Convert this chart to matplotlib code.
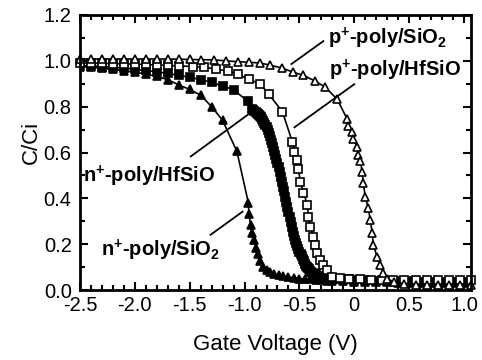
import matplotlib
matplotlib.use('Agg')
import matplotlib.pyplot as plt
from matplotlib.ticker import MultipleLocator

plt.rcParams['font.family'] = ['Liberation Sans', 'DejaVu Sans']
plt.rcParams['mathtext.fontset'] = 'custom'
plt.rcParams['mathtext.rm'] = 'Liberation Sans'
plt.rcParams['mathtext.bf'] = 'Liberation Sans:bold'
plt.rcParams['axes.unicode_minus'] = False

# n+-poly/SiO2 (filled triangles)
v_n_sio2 = [-2.5, -2.4, -2.3, -2.2, -2.1, -2.0, -1.9, -1.8, -1.7, -1.6, -1.5, -1.4, -1.3,
            -1.2, -1.07, -0.965, -0.96, -0.945, -0.93, -0.915, -0.9, -0.88, -0.855, -0.83,
            -0.8, -0.77, -0.73, -0.69, -0.65, -0.6, -0.55, -0.5, -0.45, -0.4, -0.35, -0.3,
            -0.25, -0.2, -0.1, 0.0, 0.1, 0.2, 0.3, 0.4, 0.5, 0.6, 0.7, 0.8, 0.9, 1.0]
c_n_sio2 = [0.975, 0.972, 0.968, 0.963, 0.957, 0.95, 0.942, 0.932, 0.918, 0.895, 0.875, 0.85, 0.80,
            0.74, 0.605, 0.38, 0.33, 0.285, 0.25, 0.22, 0.185, 0.155, 0.125, 0.10,
            0.088, 0.078, 0.07, 0.065, 0.06, 0.057, 0.054, 0.05, 0.048, 0.046, 0.044, 0.042,
            0.041, 0.04, 0.038, 0.036, 0.035, 0.034, 0.033, 0.032, 0.031, 0.03, 0.03, 0.03, 0.03, 0.03]

# n+-poly/HfSiO (filled squares)
v_n_hf = [-2.5, -2.4, -2.3, -2.2, -2.1, -2.0, -1.9, -1.8, -1.7, -1.6, -1.5, -1.4, -1.3, -1.2,
          -1.1, -0.97,
          -0.93, -0.92, -0.91, -0.90, -0.89, -0.88, -0.87, -0.86, -0.85, -0.84, -0.83, -0.82,
          -0.81, -0.80, -0.79, -0.78, -0.77, -0.76, -0.75, -0.74, -0.73, -0.72, -0.71, -0.70,
          -0.69, -0.68, -0.67, -0.66, -0.65, -0.64, -0.63, -0.62, -0.61, -0.60, -0.59, -0.58,
          -0.57, -0.56, -0.55, -0.54, -0.53, -0.52, -0.51, -0.50, -0.49, -0.48, -0.47, -0.46,
          -0.45, -0.44, -0.43, -0.42, -0.41, -0.40, -0.39, -0.38, -0.37, -0.36, -0.35, -0.34,
          -0.33, -0.32, -0.31, -0.30,
          -0.25, -0.2, -0.15, -0.1, -0.05, 0.0, 0.1, 0.2, 0.3, 0.4, 0.5, 0.6, 0.7, 0.8, 0.9, 1.0]
c_n_hf = [0.98, 0.978, 0.975, 0.972, 0.968, 0.963, 0.958, 0.952, 0.945, 0.937, 0.928, 0.918, 0.906, 0.89,
          0.874, 0.823,
          0.79, 0.785, 0.782, 0.778, 0.774, 0.77, 0.765, 0.76, 0.753, 0.745, 0.738, 0.73,
          0.72, 0.71, 0.698, 0.685, 0.67, 0.655, 0.64, 0.625, 0.608, 0.59, 0.573, 0.555,
          0.535, 0.515, 0.493, 0.47, 0.45, 0.43, 0.408, 0.385, 0.362, 0.34, 0.318, 0.295,
          0.275, 0.255, 0.237, 0.22, 0.205, 0.19, 0.177, 0.165, 0.157, 0.148, 0.136, 0.125,
          0.115, 0.105, 0.1, 0.095, 0.09, 0.085, 0.08, 0.076, 0.072, 0.068, 0.064, 0.061,
          0.059, 0.057, 0.056, 0.055,
          0.052, 0.05, 0.048, 0.047, 0.046, 0.045, 0.043, 0.041, 0.04, 0.039, 0.038, 0.037,
          0.036, 0.036, 0.035, 0.035]

# p+-poly/HfSiO (open squares)
v_p_hf = [-2.5, -2.4, -2.3, -2.2, -2.1, -2.0, -1.9, -1.8, -1.7, -1.6, -1.47, -1.37, -1.26,
          -1.155, -1.064, -0.964, -0.855, -0.78, -0.655, -0.564, -0.545, -0.518, -0.509,
          -0.491, -0.464, -0.427, -0.418, -0.4, -0.373, -0.355, -0.336, -0.309, -0.282,
          -0.245, -0.2, -0.13, -0.05, 0.05, 0.15, 0.25, 0.35, 0.45, 0.56, 0.66, 0.76, 0.86,
          0.96, 1.06]
c_p_hf = [0.99, 0.99, 0.989, 0.988, 0.987, 0.986, 0.984, 0.982, 0.98, 0.978, 0.975, 0.972, 0.964,
          0.955, 0.942, 0.92, 0.898, 0.855, 0.778, 0.646, 0.604, 0.569, 0.526,
          0.473, 0.425, 0.372, 0.32, 0.276, 0.232, 0.197, 0.162, 0.131, 0.11,
          0.088, 0.057, 0.053, 0.05, 0.048, 0.045, 0.044, 0.044, 0.044, 0.044, 0.044, 0.044, 0.044,
          0.044, 0.044]

# p+-poly/SiO2 (open triangles)
v_p_sio2 = [-2.5, -2.4, -2.3, -2.2, -2.1, -2.0, -1.9, -1.8, -1.7, -1.6, -1.5, -1.4, -1.28,
            -1.17, -1.06, -0.96, -0.855, -0.764, -0.655, -0.555, -0.464, -0.355, -0.264,
            -0.155, -0.064, -0.055, -0.018, -0.009, 0.027, 0.036, 0.055, 0.073, 0.082, 0.1,
            0.127, 0.145, 0.164, 0.173, 0.209, 0.236, 0.264, 0.3, 0.36, 0.45, 0.56, 0.66,
            0.76, 0.86, 0.96, 1.06]
c_p_sio2 = [1.008, 1.008, 1.008, 1.008, 1.008, 1.008, 1.008, 1.008, 1.008, 1.007, 1.006, 1.005, 1.004,
            1.0, 0.996, 0.994, 0.99, 0.981, 0.968, 0.95, 0.937, 0.911, 0.885,
            0.832, 0.745, 0.714, 0.688, 0.657, 0.626, 0.591, 0.561, 0.517, 0.469, 0.407,
            0.359, 0.307, 0.25, 0.197, 0.145, 0.11, 0.074, 0.05, 0.035, 0.028, 0.024, 0.024,
            0.024, 0.024, 0.024, 0.024]

x_ticks = [-2.5, -2.0, -1.5, -1.0, -0.5, 0.0, 0.5, 1.0]
x_tick_labels = ['-2.5', '-2.0', '-1.5', '-1.0', '-0.5', '0', '0.5', '1.0']
y_ticks = [0.0, 0.2, 0.4, 0.6, 0.8, 1.0, 1.2]
y_tick_labels = ['0.0', '0.2', '0.4', '0.6', '0.8', '1.0', '1.2']

fig = plt.figure(figsize=(4.82, 3.6), dpi=100)
ax = fig.add_axes([80 / 482, 1 - 290 / 360, 391 / 482, 275 / 360])

ms = 6.3
mew = 1.2
ax.plot(v_n_sio2, c_n_sio2, '-^', color='k', lw=1.2, ms=ms, mew=mew, mfc='k', mec='k')
ax.plot(v_n_hf, c_n_hf, '-s', color='k', lw=1.2, ms=ms, mew=mew, mfc='k', mec='k')
ax.plot(v_p_hf, c_p_hf, '-s', color='k', lw=1.2, ms=ms, mew=mew, mfc='white', mec='k',
        clip_on=False)
ax.plot(v_p_sio2, c_p_sio2, '-^', color='k', lw=1.2, ms=ms, mew=mew, mfc='white', mec='k',
        clip_on=False)

# labels + leader lines
lab_kw = dict(fontsize=14.5, fontweight='bold', ha='left', va='baseline')
ax.text(-0.236, 1.073, r'p$^{\mathbf{+}}$-poly/SiO$_{\mathbf{2}}$', **lab_kw)
ax.text(-0.227, 0.934, r'p$^{\mathbf{+}}$-poly/HfSiO', **lab_kw)
ax.text(-2.47, 0.469, r'n$^{\mathbf{+}}$-poly/HfSiO', **lab_kw)
ax.text(-2.31, 0.146, r'n$^{\mathbf{+}}$-poly/SiO$_{\mathbf{2}}$', **lab_kw)

ax.plot([-0.282, -0.573], [1.086, 0.986], color='k', lw=1.3)
ax.plot([0.0, -0.545], [0.898, 0.71], color='k', lw=1.3)
ax.plot([-1.49, -0.964], [0.583, 0.767], color='k', lw=1.3)
ax.plot([-1.31, -1.018], [0.241, 0.342], color='k', lw=1.3)

ax.set_xlim(-2.5, 1.064)
ax.set_ylim(0.0, 1.2)
ax.set_xticks(x_ticks)
ax.set_xticklabels(x_tick_labels)
ax.set_yticks(y_ticks)
ax.set_yticklabels(y_tick_labels)
ax.xaxis.set_minor_locator(MultipleLocator(0.1))
ax.yaxis.set_minor_locator(MultipleLocator(0.1))
ax.tick_params(which='both', direction='in', top=True, right=True, width=1.5)
ax.tick_params(which='major', length=6, labelsize=14.5)
ax.tick_params(which='minor', length=3.5)
ax.tick_params(axis='y', which='major', pad=6)
ax.tick_params(axis='x', which='major', pad=4)
for sp in ax.spines.values():
    sp.set_linewidth(2)

ax.set_xlabel('Gate Voltage (V)', fontsize=16)
ax.set_ylabel('C/Ci', fontsize=16)
ax.xaxis.set_label_coords(0.5, -0.16)
ax.yaxis.set_label_coords(-0.097, 0.535)

fig.savefig('out.png', dpi=100)
